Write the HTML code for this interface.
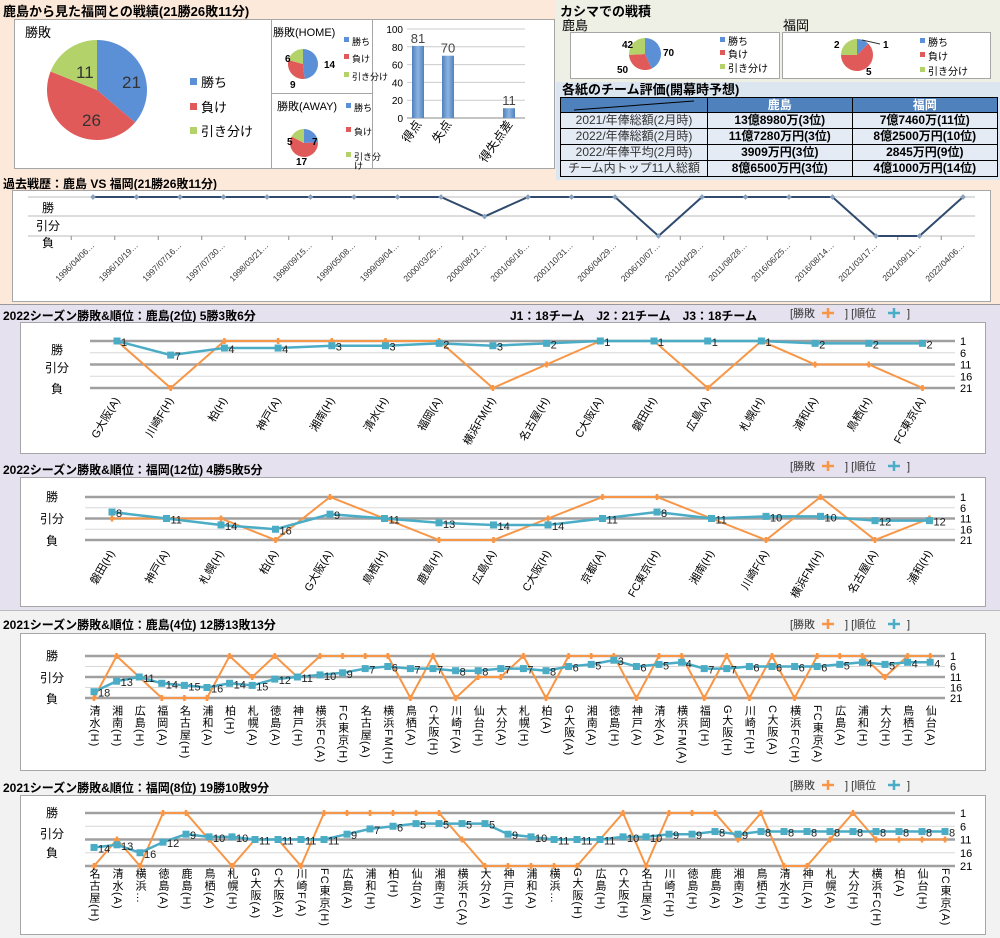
<!DOCTYPE html>
<html><head><meta charset="utf-8">
<style>
body{margin:0;width:1000px;height:938px;position:relative;overflow:hidden;font-family:"Liberation Sans","Noto Sans CJK JP",sans-serif;background:#f2f2f2}
.a{position:absolute}
.t{position:absolute;font-weight:bold;font-size:12px;color:#000;white-space:nowrap}
.box{position:absolute;background:#fff;border:1px solid #a6a6a6}
.vl{position:absolute;writing-mode:vertical-rl;font-size:11px;line-height:11px;letter-spacing:1px;color:#000;white-space:nowrap}
table{border-collapse:collapse;position:absolute;left:560px;top:97px;width:438px;font-size:12px}
td,th{border:1px solid #000;height:15px;padding:0;text-align:center;line-height:15px}
th{background:#4f81bd;color:#fff;height:14px;line-height:14px}
td{background:#e4ebf5}
td.l{font-weight:normal;color:#333}
td.v{font-weight:bold}
</style></head><body>
<div class="a" style="left:0;top:0;width:1000px;height:305px;background:#fde9d9"></div>
<div class="a" style="left:556px;top:0;width:444px;height:82px;background:#eef0e6"></div>
<div class="a" style="left:556px;top:82px;width:444px;height:98px;background:#dce6f1"></div>
<div class="a" style="left:0;top:305px;width:1000px;height:305px;background:#e6e1ee"></div>
<div class="a" style="left:0;top:304px;width:1000px;height:1px;background:#999"></div>
<div class="a" style="left:0;top:610px;width:1000px;height:1px;background:#bbb"></div>

<div class="t" style="left:3px;top:1px;font-size:13px">鹿島から見た福岡との戦績(21勝26敗11分)</div>
<div class="box" style="left:14px;top:19px;width:256px;height:148px"></div>
<div class="box" style="left:271px;top:19px;width:101px;height:74px"></div>
<div class="box" style="left:271px;top:93px;width:101px;height:74px"></div>
<div class="box" style="left:372px;top:19px;width:181px;height:148px"></div>

<div class="t" style="left:560px;top:1px;font-size:13px">カシマでの戦積</div>
<div class="a" style="left:562px;top:15px;font-size:13px">鹿島</div>
<div class="a" style="left:783px;top:15px;font-size:13px">福岡</div>
<div class="box" style="left:570px;top:32px;width:208px;height:45px"></div>
<div class="box" style="left:782px;top:32px;width:207px;height:45px"></div>
<div class="t" style="left:562px;top:79px;font-size:13px">各紙のチーム評価(開幕時予想)</div>
<table>
<tr><th style="width:146px;background:#4f81bd"><svg width="140" height="12" style="display:block;margin:auto"><line x1="10" y1="11" x2="130" y2="2" stroke="#000"/></svg></th><th>鹿島</th><th>福岡</th></tr>
<tr><td class="l">2021/年俸総額(2月時)</td><td class="v">13億8980万(3位)</td><td class="v">7億7460万(11位)</td></tr>
<tr><td class="l">2022/年俸総額(2月時)</td><td class="v">11億7280万円(3位)</td><td class="v">8億2500万円(10位)</td></tr>
<tr><td class="l">2022/年俸平均(2月時)</td><td class="v">3909万円(3位)</td><td class="v">2845万円(9位)</td></tr>
<tr><td class="l">チーム内トップ11人総額</td><td class="v">8億6500万円(3位)</td><td class="v">4億1000万円(14位)</td></tr>
</table>

<div class="t" style="left:3px;top:175px">過去戦歴：鹿島 VS 福岡(21勝26敗11分)</div>
<div class="box" style="left:12px;top:190px;width:977px;height:110px"></div>

<div class="t" style="left:3px;top:307px">2022シーズン勝敗&amp;順位：鹿島(2位) 5勝3敗6分</div>
<div class="t" style="left:510px;top:307px">J1：18チーム　J2：21チーム　J3：18チーム</div>
<div class="box" style="left:20px;top:322px;width:964px;height:130px"></div>
<div class="t" style="left:3px;top:461px">2022シーズン勝敗&amp;順位：福岡(12位) 4勝5敗5分</div>
<div class="box" style="left:20px;top:477px;width:964px;height:128px"></div>
<div class="t" style="left:3px;top:616px">2021シーズン勝敗&amp;順位：鹿島(4位) 12勝13敗13分</div>
<div class="box" style="left:20px;top:633px;width:964px;height:136px"></div>
<div class="t" style="left:3px;top:779px">2021シーズン勝敗&amp;順位：福岡(8位) 19勝10敗9分</div>
<div class="box" style="left:20px;top:795px;width:964px;height:138px"></div>

<svg id="s" class="a" style="left:0;top:0" width="1000" height="938"></svg>
<div id="v"></div>

<script>
var S=document.getElementById('s'),V=document.getElementById('v'),h='';
function T(x,y,s,o){o=o||{};h+='<text x="'+x+'" y="'+y+'" font-size="'+(o.fs||11)+'" '+(o.a?'text-anchor="'+o.a+'" ':'')+(o.b?'font-weight="bold" ':'')+(o.r!=null?'transform="rotate('+o.r+' '+x+' '+y+')" ':'')+'fill="'+(o.c||'#000')+'">'+s+'</text>';}
function L(x1,y1,x2,y2,c,w){h+='<line x1="'+x1+'" y1="'+y1+'" x2="'+x2+'" y2="'+y2+'" stroke="'+c+'" stroke-width="'+w+'"/>';}
function pie(cx,cy,r,vals,cols){var tot=vals.reduce(function(a,b){return a+b}),a=-Math.PI/2;
 vals.forEach(function(v,i){var b=a+v/tot*2*Math.PI,lg=(b-a>Math.PI)?1:0;
 h+='<path d="M'+cx+' '+cy+' L'+(cx+r*Math.cos(a))+' '+(cy+r*Math.sin(a))+' A'+r+' '+r+' 0 '+lg+' 1 '+(cx+r*Math.cos(b))+' '+(cy+r*Math.sin(b))+' Z" fill="'+cols[i]+'"/>';a=b;});}
var PC=['#5b8fd6','#e05a5a','#b3d36a'];
function leg(x,ys,labels,fs){labels.forEach(function(l,i){h+='<rect x="'+x+'" y="'+(ys[i]-4)+'" width="'+(fs>11?7:5)+'" height="'+(fs>11?7:5)+'" fill="'+PC[i]+'"/>';T(x+(fs>11?11:8),ys[i]+(fs>11?5:4),l,{fs:fs});});}
T(25,37,'勝敗',{fs:13});
pie(97,90,50,[21,26,11],PC);
T(122,88,'21',{fs:17,c:'#333'});T(82,126,'26',{fs:17,c:'#333'});T(76,78,'11',{fs:17,c:'#333'});
leg(190,[82,107,131],['勝ち','負け','引き分け'],13);
T(273,36,'勝敗(HOME)',{fs:11});pie(303,64,15,[14,9,6],PC);
T(285,62,'6',{fs:10,b:1});T(324,68,'14',{fs:10,b:1});T(290,88,'9',{fs:10,b:1});
leg(344,[41,58,76],['勝ち','負け','引き分け'],9);
T(277,110,'勝敗(AWAY)',{fs:11});pie(304,143,14,[7,17,5],PC);
T(287,145,'5',{fs:10,b:1});T(312,145,'7',{fs:10,b:1});T(296,165,'17',{fs:10,b:1});
leg(346,[107,131,156],['勝ち','負け','引き分'],9);T(354,169,'け',{fs:9});
[0,20,40,60,80,100].forEach(function(v){var y=118-v*0.89;L(407,y,525,y,'#ccc',1);T(403,y+4,v,{fs:10,a:'end'});});
L(407,118,525,118,'#888',1);
h+='<defs><linearGradient id="bg" x1="0" x2="1"><stop offset="0" stop-color="#4f81bd"/><stop offset="0.5" stop-color="#8db4e2"/><stop offset="1" stop-color="#4f81bd"/></linearGradient></defs>';
[[418,81,'81','得点'],[448,70,'70','失点'],[509,11,'11','得失点差']].forEach(function(b){var y=118-b[1]*0.89;h+='<rect x="'+(b[0]-6)+'" y="'+y+'" width="12" height="'+(118-y)+'" fill="url(#bg)"/>';T(b[0],y-3,b[2],{fs:13,a:'middle',c:'#444'});T(b[0]+4,124,b[3],{fs:12,a:'end',r:-55});});
pie(645,54,16,[70,50,42],PC);T(622,48,'42',{fs:10,b:1});T(663,56,'70',{fs:10,b:1});T(617,73,'50',{fs:10,b:1});
leg(720,[41,54,68],['勝ち','負け','引き分け'],10);
pie(857,55,16,[1,5,2],PC);T(834,48,'2',{fs:10,b:1});T(883,48,'1',{fs:10,b:1});L(862,40,880,44,'#333',1);T(866,75,'5',{fs:10,b:1});
leg(920,[42,56,71],['勝ち','負け','引き分け'],10);
[197,216,236].forEach(function(y){L(28,y,975,y,'#bbb',1);});
T(48,212,'勝',{fs:12,a:'middle'});T(48,230,'引分',{fs:12,a:'middle'});T(48,247,'負',{fs:12,a:'middle'});
var hd=['1996/04/06','1996/10/19','1997/07/16','1997/07/30','1998/03/21','1998/09/15','1999/05/08','1999/09/04','2000/03/25','2000/08/12','2001/06/16','2001/10/31','2006/04/29','2006/10/07','2011/04/29','2011/08/28','2016/06/25','2016/08/14','2021/03/17','2021/09/11','2022/04/06'];
var hr=[0,0,0,0,0,0,0,0,0,1,0,0,0,2,0,0,0,0,2,2,0],pts=[];
hd.forEach(function(d,i){var x=93+i*43.5,y=197+hr[i]*19.5;pts.push(x+','+y);L(x-21.75,236,x-21.75,240,'#888',1);T(x+2,246,d+'…',{fs:8.5,a:'end',r:-45,c:'#333'});});
h+='<polyline points="'+pts.join(' ')+'" fill="none" stroke="#2f4a6d" stroke-width="2"/>';
pts.forEach(function(p){var q=p.split(',');h+='<rect x="'+(q[0]-2)+'" y="'+(q[1]-2)+'" width="4" height="4" fill="#8aa0bb" transform="rotate(45 '+q[0]+' '+q[1]+')"/>';});

var vh='';
function season(c){
 var top=c.top,bot=c.bot,mid=(top+bot)/2,ry=function(r){return top+(r-1)*(bot-top)/20;};
 [1,6,11,16,21].forEach(function(r){var y=ry(r),th=(r%10==1);L(c.x0,y,c.x1,y,th?'#a0a0a0':'#d8d8d8',th?2.5:1);T(c.rx,y+4,r,{fs:11});});
 T(c.lx,c.ly[0],'勝',{fs:12,a:'middle'});T(c.lx,c.ly[1],'引分',{fs:12,a:'middle'});T(c.lx,c.ly[2],'負',{fs:12,a:'middle'});
 var po=[],pb=[];
 c.res.forEach(function(r,i){var x=c.xs+i*c.st;po.push(x+','+(r=='W'?top:r=='D'?mid:bot));pb.push(x+','+ry(c.rk[i]));});
 h+='<polyline points="'+po.join(' ')+'" fill="none" stroke="#f79646" stroke-width="2"/>';
 po.forEach(function(p){var q=p.split(',');h+='<path d="M'+(q[0]-3)+' '+q[1]+'h6M'+q[0]+' '+(q[1]-3)+'v6" stroke="#f79646" stroke-width="2.5"/>';});
 h+='<polyline points="'+pb.join(' ')+'" fill="none" stroke="#4bacc6" stroke-width="2.5"/>';
 pb.forEach(function(p,i){var q=p.split(',');h+='<rect x="'+(q[0]-3.5)+'" y="'+(q[1]-3.5)+'" width="7" height="7" fill="#4bacc6"/>';T(+q[0]+4,+q[1]+5,c.rk[i],{fs:11,c:'#222'});});
 c.lab.forEach(function(l,i){var x=c.xs+i*c.st;
  if(c.vert){vh+='<div class="vl" style="left:'+(x-6)+'px;top:'+c.ty+'px">'+l+'</div>';}
  else T(x+3,c.ty,l,{fs:11,a:'end',r:-60});});
 T(790,c.legy,'[勝敗',{fs:11,c:'#333'});h+='<path d="M'+822+' '+(c.legy-4)+'h12M828 '+(c.legy-9)+'v10" stroke="#f79646" stroke-width="2.5"/>';
 T(845,c.legy,'] [順位',{fs:11,c:'#333'});h+='<path d="M'+888+' '+(c.legy-4)+'h12M894 '+(c.legy-9)+'v10" stroke="#4bacc6" stroke-width="2.5"/>';T(907,c.legy,']',{fs:11,c:'#333'});
}
season({top:341,bot:388,x0:90,x1:955,rx:960,lx:57,ly:[354,372,393],xs:117,st:53.7,legy:317,ty:400,
 res:'WLWWWWWLDWWLWDDL'.split(''),rk:[1,7,4,4,3,3,2,3,2,1,1,1,1,2,2,2],
 lab:['G大阪(A)','川崎F(H)','柏(H)','神戸(A)','湘南(H)','清水(H)','福岡(A)','横浜FM(H)','名古屋(H)','C大阪(A)','磐田(H)','広島(A)','札幌(H)','浦和(A)','鳥栖(H)','FC東京(A)']});
season({top:497,bot:540,x0:85,x1:955,rx:960,lx:52,ly:[501,523,545],xs:112,st:54.5,legy:470,ty:553,
 res:'DDDLWDLLDWWDLWLD'.split(''),rk:[8,11,14,16,9,11,13,14,14,11,8,11,10,10,12,12],
 lab:['磐田(H)','神戸(A)','札幌(H)','柏(A)','G大阪(A)','鳥栖(H)','鹿島(H)','広島(A)','C大阪(H)','京都(A)','FC東京(H)','湘南(H)','川崎F(A)','横浜FM(H)','名古屋(A)','浦和(H)']});
season({top:656,bot:698,x0:85,x1:945,rx:950,lx:52,ly:[660,682,703],xs:94,st:22.6,legy:628,ty:705,vert:1,
 res:'LWDLLLWDWDWWWWLWLDDWLWWWLWWLWLWLWWWDWW'.split(''),
 rk:[18,13,11,14,15,16,14,15,12,11,10,9,7,6,7,7,8,8,7,7,8,6,5,3,6,5,4,7,7,6,6,6,6,5,4,5,4,4],
 lab:['清水(H)','湘南(H)','広島(H)','福岡(A)','名古屋(H)','浦和(A)','柏(H)','札幌(A)','徳島(A)','神戸(H)','横浜FC(A)','FC東京(H)','名古屋(A)','横浜FM(H)','鳥栖(A)','C大阪(H)','川崎F(A)','仙台(H)','大分(A)','札幌(H)','柏(A)','G大阪(A)','湘南(A)','徳島(H)','神戸(A)','清水(A)','横浜FM(A)','福岡(H)','G大阪(H)','川崎F(H)','C大阪(A)','横浜FC(H)','FC東京(A)','広島(A)','浦和(H)','大分(H)','鳥栖(H)','仙台(A)']});
season({top:813,bot:866,x0:85,x1:955,rx:960,lx:52,ly:[817,838,857],xs:94,st:23,legy:789,ty:868,vert:1,
 res:'LDLWWDLDDLWWWWWWDLLLLLDWLWWWDWLLDWDDDD'.split(''),
 rk:[14,13,16,12,9,10,10,11,11,11,11,9,7,6,5,5,5,5,9,10,11,11,11,10,10,9,9,8,9,8,8,8,8,8,8,8,8,8],
 lab:['名古屋(H)','清水(A)','横浜…','徳島(A)','鹿島(H)','鳥栖(A)','札幌(H)','G大阪(A)','C大阪(A)','川崎F(A)','FC東京(H)','広島(A)','浦和(H)','柏(H)','仙台(A)','湘南(H)','横浜FC(A)','大分(A)','神戸(H)','浦和(A)','横浜…','G大阪(H)','広島(H)','C大阪(H)','名古屋(A)','川崎F(H)','徳島(H)','鹿島(A)','湘南(A)','鳥栖(H)','清水(H)','神戸(A)','札幌(A)','大分(H)','横浜FC(H)','柏(A)','仙台(H)','FC東京(A)']});
S.innerHTML=h;V.innerHTML=vh;
</script>
</body></html>
